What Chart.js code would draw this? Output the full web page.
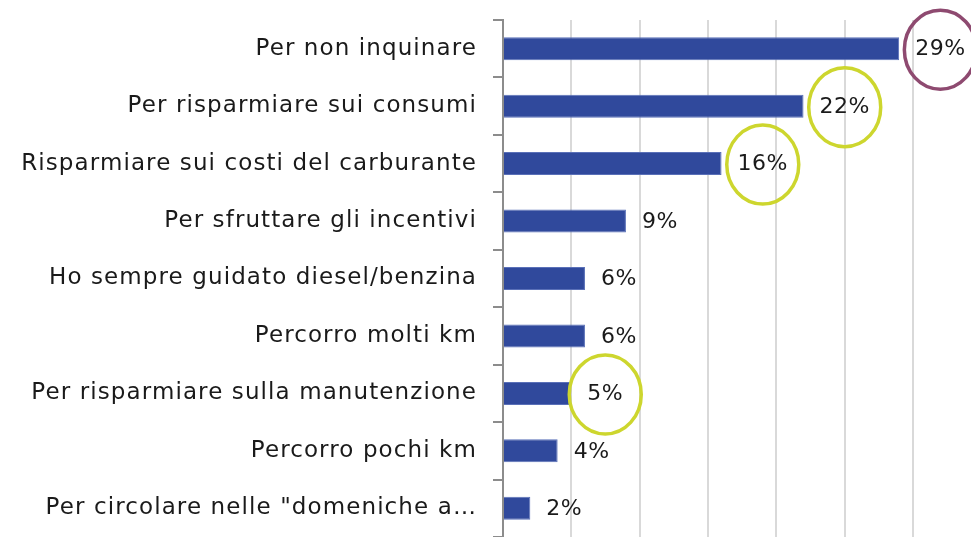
<!DOCTYPE html>
<html>
<head>
<meta charset="utf-8">
<script src="https://cdn.jsdelivr.net/npm/chart.js@4"></script>
<style>
  html, body { margin: 0; padding: 0; background: #fff; }
  #wrap { width: 971px; height: 537px; }
</style>
</head>
<body>
<div id="wrap"><canvas id="myChart"></canvas></div>
<script>
// data
const categories = [
  'Per non inquinare',
  'Per risparmiare sui consumi',
  'Risparmiare sui costi del carburante',
  'Per sfruttare gli incentivi',
  'Ho sempre guidato diesel/benzina',
  'Percorro molti km',
  'Per risparmiare sulla manutenzione',
  'Percorro pochi km',
  'Per circolare nelle "domeniche a\u2026'
];
const values = [29, 22, 16, 9, 6, 6, 5, 4, 2];
// which value labels are circled, and in what colour
const circled = ['#8e4a70', '#cdd62e', '#cdd62e', null, null, null, '#cdd62e', null, null];

const FONT = '"DejaVu Sans", sans-serif';

// wider text, closer to the original geometric face
const spacing = {
  id: 'spacing',
  beforeDraw(chart) { chart.ctx.letterSpacing = '1.1px'; }
};

const valueLabels = {
  id: 'valueLabels',
  afterDatasetsDraw(chart) {
    const ctx = chart.ctx;
    const meta = chart.getDatasetMeta(0);
    ctx.save();
    ctx.letterSpacing = '0.5px';
    ctx.font = '22px ' + FONT;
    ctx.textBaseline = 'middle';
    ctx.textAlign = 'left';
    meta.data.forEach((bar, i) => {
      const txt = values[i] + '%';
      const x = bar.x + 16;
      const w = ctx.measureText(txt).width;
      ctx.fillStyle = '#1a1a1a';
      ctx.fillText(txt, x, bar.y + 1);
      if (circled[i]) {
        ctx.beginPath();
        ctx.ellipse(x + w / 2, bar.y + 1, 36, 39.5, 0, 0, Math.PI * 2);
        ctx.lineWidth = 3.5;
        ctx.strokeStyle = circled[i];
        ctx.stroke();
      }
    });
    ctx.restore();
  }
};

new Chart(document.getElementById('myChart').getContext('2d'), {
  type: 'bar',
  data: {
    labels: categories,
    datasets: [{
      data: values,
      backgroundColor: '#30499c',
      borderColor: '#5a70b8',
      borderWidth: 1,
      barPercentage: 0.4,
      categoryPercentage: 1
    }]
  },
  options: {
    indexAxis: 'y',
    responsive: true,
    maintainAspectRatio: false,
    animation: false,
    layout: { padding: { top: 20, right: 0, bottom: 0, left: 0 } },
    plugins: { legend: { display: false }, tooltip: { enabled: false } },
    scales: {
      x: {
        min: 0,
        max: 34.26,
        afterBuildTicks: (scale) => {
          scale.ticks = scale.ticks.filter(t => t.value % 5 === 0);
        },
        afterFit: (scale) => {
          scale.height = 0;
          scale.paddingLeft = 0; scale.paddingRight = 0;
        },
        ticks: { display: false, stepSize: 5 },
        grid: { color: '#d9d9d9', lineWidth: 2, drawTicks: false },
        border: { display: false }
      },
      y: {
        afterFit: (scale) => {
          scale.width = 503;
          scale.paddingTop = 0; scale.paddingBottom = 0;
        },
        ticks: { color: '#1a1a1a', font: { family: FONT, size: 23 }, padding: 16, autoSkip: false },
        grid: { display: true, drawOnChartArea: false, drawTicks: true, tickLength: 10, color: '#8c8c8c', lineWidth: 2, offset: true },
        border: { display: true, color: '#8c8c8c', width: 2 }
      }
    }
  },
  plugins: [spacing, valueLabels]
});
</script>
</body>
</html>
